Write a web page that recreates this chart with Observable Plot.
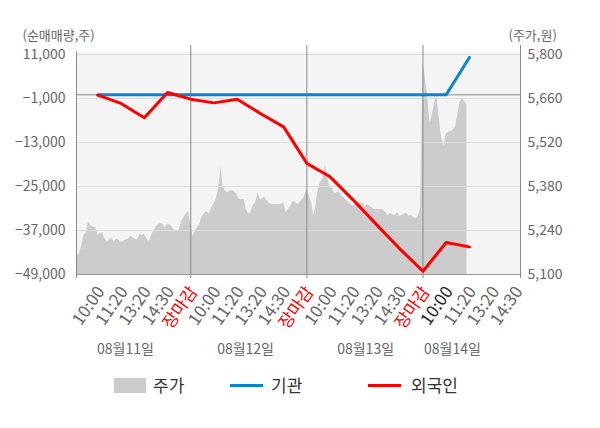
<!DOCTYPE html>
<html><head><meta charset="utf-8">
<script src="https://cdn.jsdelivr.net/npm/d3@7"></script>
<script src="https://cdn.jsdelivr.net/npm/@observablehq/plot@0.6"></script>
<style>
body{margin:0;background:#fff;font-family:"Noto Sans CJK KR",sans-serif;}
#wrap{position:relative;width:600px;height:428px;overflow:hidden;}
.lgt{position:absolute;font-size:17px;line-height:20px;color:#333;white-space:nowrap;}
.lgk{position:absolute;}
</style></head><body><div id="wrap"><div id="chart"></div><div id="legend"></div></div>
<script>
// ---- data ----
const dates = ["08월11일", "08월12일", "08월13일", "08월14일"];
const dateLabelX = [2.19, 7.36, 12.53, 16.27];
const tickLabels = ["10:00","11:20","13:20","14:30","장마감",
                    "10:00","11:20","13:20","14:30","장마감",
                    "10:00","11:20","13:20","14:30","장마감",
                    "10:00","11:20","13:20","14:30"];
const leftTicks = [-49000, -37000, -25000, -13000, -1000, 11000];
const priceTicks = [5100, 5240, 5380, 5520, 5660, 5800];

// 주가 (price), sampled every 0.1 slot within each day
const priceDay1 = [5210,5161,5165,5190,5224,5232,5268,5255,5250,5250,5225,5230,5234,5214,5203,5210,5216,5204,5212,5210,5203,5205,5210,5212,5222,5218,5212,5210,5228,5224,5229,5214,5204,5222,5238,5250,5258,5262,5261,5248,5260,5259,5250,5240,5240,5240,5268,5280,5292,5300];
const priceDay2 = [5260,5220,5240,5250,5262,5285,5295,5300,5292,5312,5325,5340,5372,5442,5378,5365,5360,5366,5367,5362,5352,5339,5339,5339,5305,5292,5300,5320,5328,5360,5336,5342,5344,5334,5326,5323,5323,5323,5323,5323,5328,5297,5305,5316,5332,5330,5323,5328,5338,5347];
const priceDay3 = [5372,5352,5328,5286,5325,5372,5394,5408,5448,5408,5377,5374,5358,5360,5362,5352,5344,5337,5330,5322,5318,5323,5328,5328,5326,5313,5323,5318,5312,5307,5307,5307,5307,5306,5297,5288,5295,5290,5287,5297,5284,5288,5293,5296,5286,5288,5281,5277,5285,5312];
const priceDay4 = [5773,5727,5672,5581,5607,5646,5667,5596,5535,5508,5545,5553,5555,5559,5570,5606,5649,5659,5649,5641];

// 순매매량 at each tick slot (1..17)
const institution = [0,0,0,0,0,0,0,0,0,0,0,0,0,0,0,0,10200];
const foreign = [-100,-2350,-6270,650,-1180,-2190,-1180,-5080,-8730,-18700,-22360,-28700,-35400,-42000,-48100,-40260,-41460];

const legendItems = [
  {label: "주가", kind: "box", color: "#cccccc"},
  {label: "기관", kind: "line", color: "#0a84d0"},
  {label: "외국인", kind: "line", color: "#ff0000"}
];

// ---- build ----
const X0 = 0.08, X1 = 19.2;
const toV = p => -49000 + (p - 5100) * 60000 / 700;
const toP = v => 5100 + (v + 49000) * 700 / 60000;
const priceRows = [priceDay1, priceDay2, priceDay3, priceDay4]
  .flatMap((arr, d) => arr.map((p, i) => ({x: d * 5 + i * 0.1, v: toV(p)})));
const instRows = institution.map((v, i) => ({x: i + 1, v}));
const forRows = foreign.map((v, i) => ({x: i + 1, v}));
const tickRows = tickLabels.map((t, i) => ({x: i + 1, t,
  color: t === "장마감" ? "#ff0000" : (i === 15 ? "#222222" : "#666666")}));
const dateRows = dates.map((t, i) => ({x: dateLabelX[i], t}));
const fmt = d3.format(",");

const chart = Plot.plot({
  width: 600, height: 370,
  marginTop: 54, marginBottom: 96, marginLeft: 76, marginRight: 80,
  x: {domain: [X0, X1], axis: null, label: null},
  y: {domain: [-49000, 11000], axis: null, label: null},
  style: {fontFamily: "'Noto Sans CJK KR', sans-serif", fontSize: "14px", background: "transparent", overflow: "visible"},
  marks: [
    Plot.frame({fill: "#f4f4f4", stroke: "none", insetTop: -2.5}),
    Plot.areaY(priceRows, {x: "x", y1: () => -49000, y2: "v", fill: "#cccccc", clip: true}),
    Plot.gridY(leftTicks, {stroke: "#dddddd", strokeOpacity: 1}),
    Plot.ruleY([0], {stroke: "#888888"}),
    Plot.ruleX([5, 10, 15], {stroke: "#888888", insetTop: -9, insetBottom: -4}),
    Plot.ruleX([X0], {stroke: "#888888", insetTop: -2.5, insetBottom: -4}),
    Plot.ruleX([X1], {stroke: "#888888", insetTop: -9, insetBottom: -4}),
    Plot.ruleY([-49000], {stroke: "#999999"}),
    Plot.axisY(leftTicks, {anchor: "left", label: null, tickSize: 0, tickPadding: 11, tickFormat: fmt, fill: "#666", fontSize: 14}),
    Plot.axisY(priceTicks.map(toV), {anchor: "right", label: null, tickSize: 0, tickPadding: 7,
      tickFormat: v => fmt(Math.round(toP(v))), fill: "#666", fontSize: 14}),
    Plot.line(instRows, {x: "x", y: "v", stroke: "#0a84d0", strokeWidth: 3}),
    Plot.line(forRows, {x: "x", y: "v", stroke: "#ff0000", strokeWidth: 3}),
    Plot.text(tickRows, {x: "x", text: "t", frameAnchor: "bottom", rotate: -55, textAnchor: "end",
      lineAnchor: "middle", dx: 3, dy: 14, fill: "color", fontSize: 17}),
    Plot.text(dateRows, {x: "x", text: "t", frameAnchor: "bottom", dy: 79, fill: "#666", fontSize: 14}),
    Plot.text(["(순매매량,주)"], {text: d => d, frameAnchor: "top-left", dx: -54, dy: -23.5, textAnchor: "start", fill: "#666", fontSize: 13}),
    Plot.text(["(주가,원)"], {text: d => d, frameAnchor: "top-right", dx: -12, dy: -23.5, textAnchor: "start", fill: "#666", fontSize: 13})
  ]
});
document.getElementById("chart").appendChild(chart);

// legend (HTML, below the svg)
const lg = document.getElementById("legend");
const lgPos = [{k: 114, t: 153}, {k: 230, t: 271}, {k: 368, t: 411}];
legendItems.forEach((it, i) => {
  const key = document.createElement("div");
  key.className = "lgk";
  key.style.left = lgPos[i].k + "px";
  key.style.background = it.color;
  if (it.kind === "box") { key.style.top = "378px"; key.style.width = "32px"; key.style.height = "15px"; }
  else { key.style.top = "384px"; key.style.width = "33px"; key.style.height = "3px"; }
  lg.appendChild(key);
  const t = document.createElement("div");
  t.className = "lgt";
  t.style.left = lgPos[i].t + "px";
  t.style.top = "375px";
  t.textContent = it.label;
  lg.appendChild(t);
});
</script></body></html>
